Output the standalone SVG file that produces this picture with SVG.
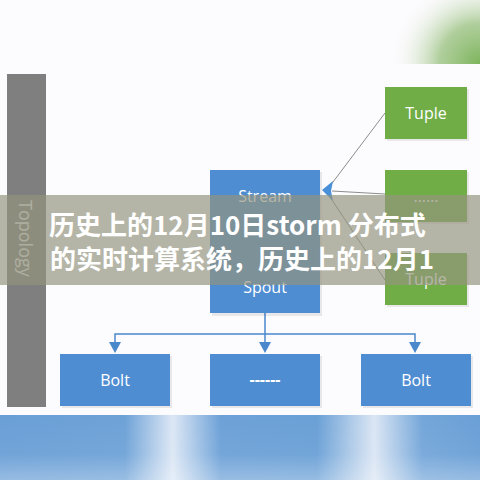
<svg xmlns="http://www.w3.org/2000/svg" width="480" height="480" viewBox="0 0 480 480">
<style>
.blue{fill:#4f8dd3}
.green{fill:#70ad47}
.shadow{fill:#000;opacity:0.08}
.lbl{font-family:"Open Sans","Noto Sans",sans-serif;font-size:16px;fill:#ffffff;text-anchor:middle}
.conn{stroke:#8c8c8c;stroke-width:1;fill:none}
.bconn{stroke:#4a88cc;stroke-width:1.5;fill:none}
.title{font-family:"Noto Sans CJK SC","Noto Sans",sans-serif;font-weight:700;font-size:26px;fill:#ffffff}
</style>
<defs>
<radialGradient id="gblob" cx="480" cy="64" r="90" gradientUnits="userSpaceOnUse">
<stop offset="0" stop-color="#7db45c"/>
<stop offset="0.45" stop-color="#9cc383" stop-opacity="0.8"/>
<stop offset="1" stop-color="#fcfbfd" stop-opacity="0"/>
</radialGradient>
<linearGradient id="band" x1="0" y1="0" x2="480" y2="0" gradientUnits="userSpaceOnUse">
<stop offset="0" stop-color="#6a9fd6"/>
<stop offset="0.26" stop-color="#6ea2d7"/>
<stop offset="0.36" stop-color="#dce7f5"/>
<stop offset="0.46" stop-color="#6da1d7"/>
<stop offset="0.66" stop-color="#6aa0d6"/>
<stop offset="0.78" stop-color="#dbe6f4"/>
<stop offset="0.88" stop-color="#74a6d9"/>
<stop offset="1" stop-color="#6a9fd6"/>
</linearGradient>
<linearGradient id="bandv" x1="0" y1="415" x2="0" y2="480" gradientUnits="userSpaceOnUse">
<stop offset="0" stop-color="#ffffff" stop-opacity="0"/>
<stop offset="0.6" stop-color="#ffffff" stop-opacity="0.05"/>
<stop offset="1" stop-color="#ffffff" stop-opacity="0.3"/>
</linearGradient>
</defs>
<rect x="0" y="0" width="480" height="480" fill="#fcfbfd"/>
<rect x="390" y="0" width="90" height="64" fill="url(#gblob)"/>

<g id="topology">
<rect x="7" y="74" width="39" height="333" fill="#7f7f7f"/>
<text transform="translate(19,200) rotate(90)" font-family="'Open Sans','Noto Sans',sans-serif" font-size="18" fill="#e6e6e6">Topology</text>
</g>

<g id="connectors">
<line class="conn" x1="385" y1="113" x2="330" y2="186"/>
<line class="conn" x1="385" y1="194" x2="332" y2="191"/>
<line class="conn" x1="385" y1="280" x2="330" y2="197"/>
<polygon points="322,190 333,181 331,191 333,201" fill="#4a90d9"/>
<polyline class="bconn" points="265,313 265,344"/>
<polyline class="bconn" points="115,344 115,334 415,334 415,344"/>
<polygon points="109,342 121,342 115,353" fill="#4a88cc"/>
<polygon points="259,342 271,342 265,353" fill="#4a88cc"/>
<polygon points="409,342 421,342 415,353" fill="#4a88cc"/>
</g>

<g id="stream-spout">
<rect class="shadow" x="212" y="172" width="110" height="144"/>
<rect class="blue" x="210" y="170" width="110" height="143"/>
<text class="lbl" x="265" y="202" font-size="15">Stream</text>
<text class="lbl" x="265" y="293" font-size="15">Spout</text>
</g>

<g id="tuple1">
<rect class="shadow" x="387" y="89" width="82" height="52"/>
<rect class="green" x="385" y="87" width="82" height="52"/>
<text class="lbl" x="426" y="119">Tuple</text>
</g>
<g id="tuple2">
<rect class="shadow" x="387" y="172" width="82" height="52"/>
<rect class="green" x="385" y="170" width="82" height="52"/>
<text class="lbl" x="426" y="202">……</text>
</g>
<g id="tuple3">
<rect class="shadow" x="387" y="255" width="82" height="52"/>
<rect class="green" x="385" y="253" width="82" height="52"/>
<text class="lbl" x="426" y="285">Tuple</text>
</g>

<g id="bolt1">
<rect class="shadow" x="62" y="356" width="110" height="52"/>
<rect class="blue" x="60" y="354" width="110" height="52"/>
<text class="lbl" x="115" y="386" font-size="17">Bolt</text>
</g>
<g id="bolt2">
<rect class="shadow" x="212" y="356" width="110" height="52"/>
<rect class="blue" x="210" y="354" width="110" height="52"/>
<text class="lbl" x="265" y="385" font-size="17" font-weight="700">------</text>
</g>
<g id="bolt3">
<rect class="shadow" x="363" y="356" width="110" height="52"/>
<rect class="blue" x="361" y="354" width="110" height="52"/>
<text class="lbl" x="416" y="386" font-size="17">Bolt</text>
</g>

<rect x="0" y="415" width="480" height="65" fill="url(#band)"/>
<rect x="0" y="415" width="480" height="65" fill="url(#bandv)"/>

<rect x="0" y="195" width="480" height="90" fill="#93947e" fill-opacity="0.68"/>
<text class="title" x="49" y="235">历史上的12月10日storm 分布式</text>
<text class="title" x="50" y="269">的实时计算系统，历史上的12月1</text>
</svg>
